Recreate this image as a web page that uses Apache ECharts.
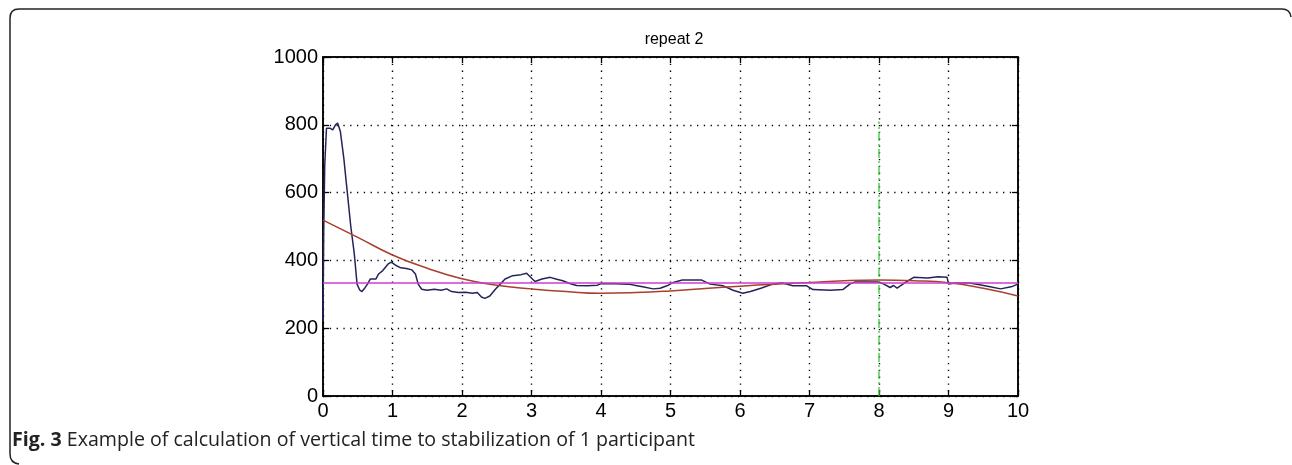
<!DOCTYPE html>
<html>
<head>
<meta charset="utf-8">
<script src="https://cdn.jsdelivr.net/npm/echarts@6/dist/echarts.min.js"></script>
<style>
html,body{margin:0;padding:0;background:#fff;}
#c{width:1292px;height:465px;}
</style>
</head>
<body>
<div id="c"></div>
<script>
// ---- data ----
const titleText = 'repeat 2';
const captionBold = 'Fig. 3';
const captionText = ' Example of calculation of vertical time to stabilization of 1 participant';
const xTicks = [0,1,2,3,4,5,6,7,8,9,10];
const yTicks = [0,200,400,600,800,1000];

const signalX = [0,0.01,0.025,0.05,0.1,0.14,0.18,0.21,0.25,0.3,0.35,0.4,0.45,0.49,0.53,0.56,0.6,0.64,0.68,0.76,0.8,0.86,0.94,0.98,1.05,1.12,1.2,1.28,1.33,1.37,1.42,1.5,1.6,1.7,1.78,1.85,1.95,2.05,2.15,2.22,2.28,2.33,2.4,2.48,2.55,2.62,2.73,2.85,2.93,2.98,3.05,3.15,3.27,3.35,3.45,3.55,3.65,3.8,3.95,4.0,4.2,4.4,4.5,4.6,4.75,4.85,4.95,5.04,5.17,5.45,5.57,5.76,5.9,6.04,6.15,6.3,6.47,6.6,6.76,6.96,7.05,7.3,7.48,7.58,7.65,8.0,8.05,8.16,8.21,8.26,8.38,8.5,8.7,8.85,8.98,9.0,9.1,9.3,9.45,9.6,9.75,9.9,10];
const signalY = [220,480,680,790,790,785,800,805,780,700,600,500,420,330,312,308,318,330,345,345,360,370,390,395,385,378,376,372,360,330,315,312,315,312,316,308,305,306,303,305,292,288,295,315,330,345,355,358,362,352,338,345,350,345,340,332,326,325,327,332,331,330,326,322,316,318,325,335,342,342,330,325,312,303,308,318,330,334,325,325,314,312,314,330,336,336,332,320,326,318,335,350,348,352,350,330,333,333,328,322,316,322,330];

const fitX = [0,0.5,1,1.5,2,2.5,3,3.5,4,4.5,5,5.5,6,6.5,7,7.5,8,8.5,9,9.5,10];
const fitY = [519,468,416,377,346,327,316,308,303,305,310,317,324,330,335,340,342,340,334,318,295];

const meanLevel = 333;
const markerX = 8;
const markerTop = 810;

// ---- chart ----
const chart = echarts.init(document.getElementById('c'), null, {renderer:'canvas'});
const zip = (xs, ys) => xs.map((x,i)=>[x, ys[i]]);
const tickFont = {color:'#000', fontFamily:'Liberation Sans, Arial, sans-serif', fontSize:20};
const dotted = {show:true, lineStyle:{color:'#000', type:[1.3,5.5], width:1.4}};
const frameStyle = {fill:'none', stroke:'#222', lineWidth:1.5};
const tickIn = {show:true, inside:true, length:6, lineStyle:{color:'#000', width:1.3}};

chart.setOption({
  animation:false,
  backgroundColor:'#fff',
  title:{text:titleText, left:669, top:27, textAlign:'center',
    textStyle:{fontFamily:'Liberation Sans, Arial, sans-serif', fontSize:16, fontWeight:'normal', color:'#000'}},
  grid:{left:323, right:274, top:57, bottom:69, show:true, borderColor:'#000', borderWidth:1.5, backgroundColor:'transparent'},
  xAxis:[
    {type:'value', min:0, max:10, interval:1, position:'bottom', gridIndex:0,
     axisLine:{show:true, onZero:false, lineStyle:{color:'#000', width:1.5}},
     axisTick:tickIn,
     axisLabel:Object.assign({margin:5}, tickFont, {formatter:v=>xTicks.includes(v)?String(v):''}),
     splitLine:dotted},
    {type:'value', min:0, max:10, interval:1, position:'top', gridIndex:0,
     axisLine:{show:true, onZero:false, lineStyle:{color:'#000', width:1.5}},
     axisTick:tickIn,
     axisLabel:{show:false}, splitLine:{show:false}}
  ],
  yAxis:[
    {type:'value', min:0, max:1000, interval:200, position:'left', gridIndex:0,
     axisLine:{show:true, onZero:false, lineStyle:{color:'#000', width:1.5}},
     axisTick:tickIn,
     axisLabel:Object.assign({margin:5}, tickFont, {formatter:v=>yTicks.includes(v)?String(v):''}),
     splitLine:dotted},
    {type:'value', min:0, max:1000, interval:200, position:'right', gridIndex:0,
     axisLine:{show:true, onZero:false, lineStyle:{color:'#000', width:1.5}},
     axisTick:tickIn,
     axisLabel:{show:false}, splitLine:{show:false}}
  ],
  series:[
    {type:'line', data:zip(signalX, signalY), showSymbol:false, lineStyle:{color:'#24245a', width:1.5}, z:3},
    {type:'line', data:zip(fitX, fitY), smooth:true, showSymbol:false, lineStyle:{color:'#a8402c', width:1.5}, z:4},
    {type:'line', data:[[0,meanLevel],[10,meanLevel]], showSymbol:false, lineStyle:{color:'#d03cd0', width:1.5}, z:5},
    {type:'line', data:[[markerX,0],[markerX,markerTop]], showSymbol:false, lineStyle:{color:'#3cc83c', width:1.3, type:[9,3,2,3]}, z:6}
  ],
  graphic:[
    {type:'line', shape:{x1:19, y1:9, x2:1282, y2:9}, style:frameStyle},
    {type:'line', shape:{x1:10, y1:18, x2:10, y2:454}, style:frameStyle},
    {type:'bezierCurve', shape:{x1:10, y1:18, cpx1:10, cpy1:9, x2:19, y2:9}, style:frameStyle},
    {type:'bezierCurve', shape:{x1:1282, y1:9, cpx1:1290, cpy1:9, x2:1291, y2:17}, style:frameStyle},
    {type:'bezierCurve', shape:{x1:10, y1:454, cpx1:10, cpy1:463, x2:19, y2:464}, style:frameStyle},
    {type:'text', left:12, top:430, style:{
      rich:{b:{fontFamily:'Open Sans, sans-serif', fontWeight:'bold', fontSize:19.6, fill:'#222'},
            n:{fontFamily:'Open Sans, sans-serif', fontSize:19.6, fill:'#222'}},
      text:'{b|'+captionBold+'}{n|'+captionText+'}'}}
  ]
});
</script>
</body>
</html>
